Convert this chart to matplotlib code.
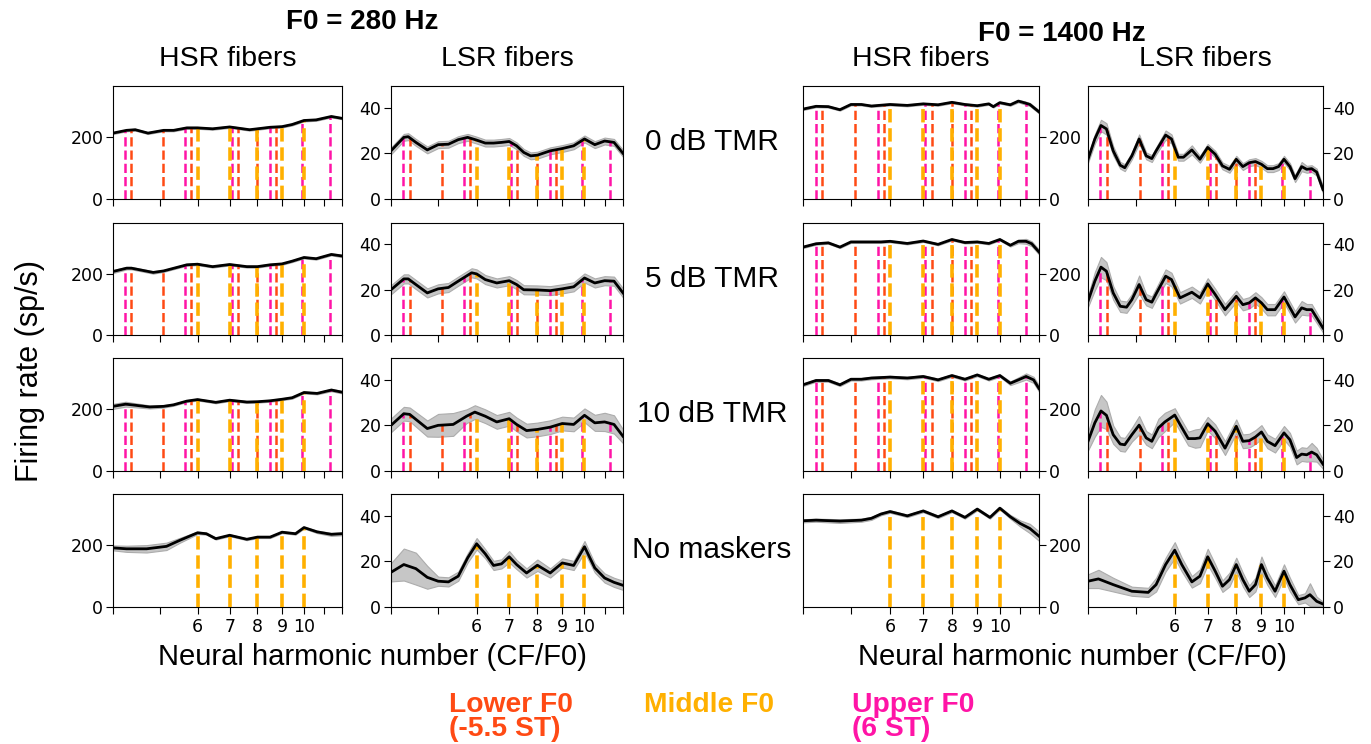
import numpy as np
import matplotlib.pyplot as plt

plt.rcParams['font.family'] = ['DejaVu Sans']

# harmonic positions (CF / middle F0) of the three talkers
MIDDLE_HARM = [6, 7, 8, 9, 10]
LOWER_HARM = [4.37, 5.09, 5.82, 7.28, 8.0, 8.73]
UPPER_HARM = [4.24, 5.66, 7.07, 8.49, 9.9, 11.31]

# ---------- F0 = 280 Hz, HSR fibers ----------
h280_0_x = [4.0, 4.27, 4.45, 4.73, 5.1, 5.35, 5.7, 6.0, 6.45, 7.0, 7.7, 8.0, 8.5, 9.0, 9.45, 10.0, 10.6, 11.4, 12.0]
h280_0_y = [214, 223, 225, 214, 223, 223, 231, 231, 228, 234, 225, 228, 233, 235, 242, 255, 257, 268, 262]
h280_0_sd = 3

h280_5_x = [4.0, 4.27, 4.37, 4.85, 5.1, 5.7, 6.0, 6.45, 7.0, 7.6, 8.0, 8.5, 9.0, 9.45, 10.0, 10.6, 11.4, 12.0]
h280_5_y = [208, 219, 219, 205, 210, 230, 232, 224, 231, 224, 224, 230, 233, 242, 254, 250, 264, 259]
h280_5_sd = [5, 4, 4, 4, 3, 3, 3, 3, 3, 3, 3, 3, 3, 3, 3, 3, 3, 4]

h280_10_x = [4.0, 4.25, 4.37, 4.77, 5.1, 5.35, 5.7, 6.0, 6.55, 7.0, 7.6, 8.0, 8.5, 9.0, 9.45, 10.0, 10.65, 11.4, 12.0]
h280_10_y = [210, 217, 215, 208, 210, 215, 227, 232, 223, 230, 224, 225, 228, 233, 238, 255, 252, 263, 256]
h280_10_sd = [8, 8, 7, 5, 4, 3, 3, 3, 3, 3, 3, 3, 3, 3, 3, 3, 3, 4, 4]

h280_nm_x = [4.0, 4.27, 4.7, 5.17, 5.5, 6.0, 6.26, 6.55, 7.0, 7.6, 8.0, 8.5, 9.0, 9.6, 10.0, 10.65, 11.4, 12.0]
h280_nm_y = [192, 189, 189, 197, 216, 241, 238, 222, 233, 220, 227, 227, 243, 238, 258, 244, 236, 238]
h280_nm_sd = [8, 10, 12, 12, 8, 4, 3, 3, 3, 3, 3, 3, 3, 3, 3, 4, 5, 5]

# ---------- F0 = 280 Hz, LSR fibers ----------
l280_0_x = [4.0, 4.25, 4.34, 4.5, 4.75, 5.0, 5.25, 5.5, 5.75, 6.0, 6.25, 6.5, 6.75, 7.0, 7.25, 7.5, 7.75, 8.0, 8.5, 9.0, 9.5, 10.0, 10.5, 11.0, 11.5, 12.0]
l280_0_y = [21.1, 27.0, 27.3, 24.8, 21.5, 23.8, 24.0, 26.0, 27.0, 25.8, 24.5, 24.5, 24.8, 25.2, 23.3, 20.4, 18.9, 19.2, 21.1, 22.1, 23.3, 26.3, 23.8, 25.4, 24.8, 20.0]
l280_0_sd = 1.5

l280_5_x = [4.0, 4.25, 4.34, 4.5, 4.75, 5.0, 5.25, 5.5, 5.86, 6.0, 6.25, 6.6, 7.0, 7.25, 7.5, 8.0, 8.5, 9.0, 9.5, 10.0, 10.5, 11.0, 11.5, 12.0]
l280_5_y = [20.0, 24.8, 24.8, 22.3, 18.6, 20.4, 21.0, 23.8, 27.5, 27.0, 24.5, 23.0, 24.0, 22.3, 20.0, 19.9, 19.6, 20.4, 21.3, 25.2, 23.0, 24.0, 23.8, 18.6]
l280_5_sd = 2.0

l280_10_x = [4.0, 4.25, 4.37, 4.75, 5.0, 5.37, 5.72, 5.95, 6.25, 6.6, 7.0, 7.25, 7.6, 8.0, 8.5, 9.0, 9.5, 10.0, 10.5, 11.0, 11.5, 12.0]
l280_10_y = [20.0, 25.1, 24.8, 18.6, 20.0, 20.4, 24.0, 25.8, 24.0, 21.5, 22.9, 20.4, 17.7, 18.2, 19.2, 20.8, 20.4, 24.4, 21.1, 21.5, 20.4, 15.2]
l280_10_sd = [3, 3, 3, 3.5, 5, 5, 3, 3, 3, 3, 3, 3, 3, 3, 3, 3, 3, 3, 3.5, 4, 4, 3]

l280_nm_x = [4.0, 4.25, 4.5, 4.75, 5.0, 5.25, 5.5, 5.75, 6.0, 6.25, 6.5, 6.75, 7.0, 7.25, 7.6, 8.0, 8.5, 9.0, 9.5, 10.0, 10.5, 11.0, 11.5, 12.0]
l280_nm_y = [15.2, 18.6, 16.8, 13.0, 11.3, 11.0, 13.5, 21.5, 27.7, 23.3, 18.2, 18.9, 22.0, 18.6, 14.9, 18.3, 14.9, 19.3, 18.2, 26.4, 17.1, 12.7, 10.8, 9.5]
l280_nm_sd = [4, 7, 7, 5, 2, 2, 2, 2, 2.5, 2, 2, 2, 2.5, 2, 2, 2.5, 2, 2, 2, 2.5, 2, 2, 2, 2]

# ---------- F0 = 1400 Hz, HSR fibers ----------
h1400_0_x = [4.0, 4.25, 4.5, 4.75, 5.0, 5.25, 5.5, 6.0, 6.5, 7.0, 7.5, 8.0, 8.5, 9.0, 9.5, 9.7, 10.0, 10.5, 10.9, 11.24, 11.5, 12.0]
h1400_0_y = [292, 301, 300, 290, 307, 307, 302, 307, 304, 309, 306, 314, 307, 303, 309, 300, 313, 306, 318, 312, 307, 283]
h1400_0_sd = [3, 3, 3, 3, 3, 3, 3, 3, 3, 3, 3, 3, 3, 3, 3, 3, 3, 3, 4, 5, 5, 5]

h1400_5_x = [4.0, 4.25, 4.5, 4.75, 5.0, 5.25, 5.75, 6.0, 6.5, 7.0, 7.5, 8.0, 8.5, 9.0, 9.5, 10.0, 10.5, 10.9, 11.3, 11.6, 12.0]
h1400_5_y = [288, 299, 302, 288, 305, 305, 305, 307, 300, 308, 297, 313, 303, 305, 300, 313, 294, 307, 307, 299, 272]
h1400_5_sd = [3, 3, 3, 3, 3, 3, 3, 3, 3, 3, 3, 3, 3, 3, 3, 3, 4, 6, 8, 8, 8]

h1400_10_x = [4.0, 4.25, 4.5, 4.75, 5.0, 5.25, 5.5, 6.0, 6.5, 7.0, 7.5, 8.0, 8.5, 9.0, 9.5, 10.0, 10.5, 10.9, 11.3, 11.7, 12.0]
h1400_10_y = [280, 294, 294, 280, 298, 298, 302, 305, 302, 307, 296, 310, 298, 312, 298, 310, 285, 296, 307, 296, 268]
h1400_10_sd = [4, 4, 4, 4, 4, 4, 4, 4, 4, 4, 4, 4, 4, 4, 4, 4, 6, 8, 10, 10, 10]

h1400_nm_x = [4.0, 4.25, 4.75, 5.25, 5.5, 5.75, 6.0, 6.5, 7.0, 7.5, 8.0, 8.5, 9.0, 9.55, 10.0, 10.5, 11.0, 11.5, 12.0]
h1400_nm_y = [280, 282, 279, 282, 288, 302, 310, 296, 312, 293, 312, 291, 318, 291, 321, 293, 271, 255, 230]
h1400_nm_sd = [5, 5, 6, 5, 5, 4, 4, 4, 4, 4, 4, 4, 4, 4, 4, 6, 10, 15, 15]

# ---------- F0 = 1400 Hz, LSR fibers ----------
l1400_0_x = [4.0, 4.13, 4.25, 4.36, 4.5, 4.65, 4.75, 4.91, 5.08, 5.25, 5.39, 5.5, 5.75, 5.91, 6.1, 6.25, 6.5, 6.75, 7.0, 7.25, 7.5, 7.75, 8.0, 8.25, 8.5, 8.75, 9.0, 9.25, 9.5, 9.75, 10.0, 10.28, 10.53, 10.86, 11.12, 11.38, 11.65, 12.0]
l1400_0_y = [17.4, 26.3, 32.2, 30.7, 21.1, 14.8, 13.7, 18.9, 26.3, 18.9, 17.7, 21.1, 28.0, 26.3, 18.3, 18.3, 21.5, 17.4, 22.6, 19.6, 14.5, 13.0, 17.4, 14.2, 15.9, 16.4, 15.2, 13.3, 13.3, 14.2, 17.4, 14.2, 8.9, 14.2, 13.0, 13.3, 11.8, 4.1]
l1400_0_sd = [1.5, 2, 2.5, 2.5, 2, 1.5, 1.5, 1.5, 2, 1.5, 1.5, 1.5, 2, 2, 1.5, 1.5, 2, 1.5, 1.5, 1.5, 1.5, 1.5, 1.5, 1.5, 1.5, 1.5, 1.5, 1.5, 1.5, 1.5, 1.5, 1.5, 1.5, 2, 1.5, 1.5, 1.5, 1.5]

l1400_5_x = [4.0, 4.13, 4.25, 4.36, 4.5, 4.65, 4.79, 4.91, 5.08, 5.25, 5.39, 5.5, 5.75, 5.91, 6.15, 6.5, 6.75, 7.0, 7.25, 7.59, 8.0, 8.25, 8.5, 8.75, 9.0, 9.25, 9.59, 10.0, 10.53, 10.86, 11.12, 11.38, 12.0]
l1400_5_y = [14.9, 23.8, 30.0, 28.2, 18.6, 12.7, 12.3, 15.6, 22.3, 15.6, 14.5, 18.2, 26.0, 24.5, 16.4, 18.9, 16.4, 22.6, 17.9, 11.2, 17.1, 13.4, 14.2, 16.4, 14.2, 11.2, 11.2, 16.8, 8.0, 12.0, 11.2, 11.2, 3.1]
l1400_5_sd = [2.5, 4, 4.5, 4, 3, 2.5, 2.5, 2.5, 4, 2.5, 2.5, 2.5, 3, 3, 2.5, 2.5, 2.5, 2.5, 2.5, 2.5, 2.5, 2.5, 2.5, 2.5, 2.5, 2.5, 2.5, 2.5, 2.5, 3, 2.5, 2.5, 2]

l1400_10_x = [4.0, 4.13, 4.25, 4.36, 4.5, 4.65, 4.75, 4.91, 5.08, 5.25, 5.39, 5.56, 5.73, 6.0, 6.15, 6.39, 6.6, 6.75, 7.0, 7.25, 7.59, 8.0, 8.25, 8.5, 8.75, 9.0, 9.25, 9.59, 10.0, 10.28, 10.61, 10.86, 11.12, 11.38, 11.65, 12.0]
l1400_10_y = [13.0, 21.1, 26.3, 24.4, 15.9, 11.8, 11.5, 15.9, 20.1, 14.5, 13.0, 18.9, 21.5, 24.5, 20.4, 14.2, 14.2, 14.5, 20.7, 17.4, 10.0, 19.6, 13.0, 13.3, 14.9, 17.1, 13.0, 11.1, 16.7, 13.7, 5.9, 7.4, 7.1, 8.3, 7.1, 3.0]
l1400_10_sd = [4, 6, 7, 6, 4, 3, 3, 3, 4, 3, 3, 4, 4, 3, 3, 3, 4, 4, 3, 3, 3, 3, 3, 3, 3, 3, 3, 3, 3, 3, 3, 3, 3, 4, 3, 2]

l1400_nm_x = [4.0, 4.2, 4.5, 4.91, 5.3, 5.5, 5.75, 6.0, 6.2, 6.5, 6.75, 7.0, 7.25, 7.5, 7.75, 8.0, 8.25, 8.5, 8.75, 9.0, 9.25, 9.59, 10.0, 10.28, 10.69, 11.03, 11.29, 11.65, 12.0]
l1400_nm_y = [11.3, 12.3, 9.8, 6.9, 6.4, 9.8, 18.6, 24.9, 18.6, 11.0, 13.5, 22.0, 15.7, 9.1, 12.0, 18.6, 12.0, 6.9, 9.8, 18.6, 12.7, 6.9, 15.7, 9.8, 3.2, 4.0, 5.4, 2.5, 1.3]
l1400_nm_sd = [3, 4, 3, 2, 2, 3, 3, 3.5, 3, 2.5, 3, 3.5, 3, 2.5, 3, 3, 3, 2.5, 3, 3.5, 3, 2.5, 3, 3, 2, 2, 5, 2, 1]

row_labels = ['0 dB TMR', '5 dB TMR', '10 dB TMR', 'No maskers']
col_titles = ['HSR fibers', 'LSR fibers', 'HSR fibers', 'LSR fibers']

panels = [
    [(h280_0_x, h280_0_y, h280_0_sd), (l280_0_x, l280_0_y, l280_0_sd),
     (h1400_0_x, h1400_0_y, h1400_0_sd), (l1400_0_x, l1400_0_y, l1400_0_sd)],
    [(h280_5_x, h280_5_y, h280_5_sd), (l280_5_x, l280_5_y, l280_5_sd),
     (h1400_5_x, h1400_5_y, h1400_5_sd), (l1400_5_x, l1400_5_y, l1400_5_sd)],
    [(h280_10_x, h280_10_y, h280_10_sd), (l280_10_x, l280_10_y, l280_10_sd),
     (h1400_10_x, h1400_10_y, h1400_10_sd), (l1400_10_x, l1400_10_y, l1400_10_sd)],
    [(h280_nm_x, h280_nm_y, h280_nm_sd), (l280_nm_x, l280_nm_y, l280_nm_sd),
     (h1400_nm_x, h1400_nm_y, h1400_nm_sd), (l1400_nm_x, l1400_nm_y, l1400_nm_sd)],
]

LOWER_C = '#ff4a14'
MID_C = '#ffb000'
UP_C = '#ff14a6'
TXT = ['Liberation Sans', 'DejaVu Sans']

W, H = 1371, 744
col_px = [(113, 342), (391, 623), (803, 1039), (1088, 1323)]
row_px = [(86, 199), (223, 335), (358, 471), (494, 607)]

fig = plt.figure(figsize=(W / 100, H / 100), dpi=100)

for r in range(4):
    for c in range(4):
        x0, x1 = col_px[c]
        y0, y1 = row_px[r]
        ax = fig.add_axes([x0 / W, 1 - y1 / H, (x1 - x0) / W, (y1 - y0) / H])
        x, y, sd = panels[r][c]
        x = np.array(x)
        y = np.array(y)
        sd = np.broadcast_to(np.array(sd, dtype=float), y.shape)

        ax.fill_between(x, y - sd, y + sd, facecolor='#c6c6c6', edgecolor='#acacac', lw=0.8, zorder=1)

        if r < 3:
            for h in LOWER_HARM:
                ax.vlines(h, 0, np.interp(h, x, y), colors=LOWER_C, linestyles='--', lw=1.8, zorder=2)
            for h in UPPER_HARM:
                ax.vlines(h, 0, np.interp(h, x, y), colors=UP_C, linestyles='--', lw=1.8, zorder=2)
        for h in MIDDLE_HARM:
            ax.vlines(h, 0, np.interp(h, x, y), colors=MID_C, linestyles='--', lw=2.6, zorder=3)

        ax.plot(x, y, color='black', lw=2, zorder=4)

        ax.set_xscale('log')
        ax.set_xlim(4, 12)
        ax.minorticks_off()
        ax.set_xticks([4, 5, 6, 7, 8, 9, 10, 11, 12])
        if r == 3:
            ax.set_xticklabels(['', '', '6', '7', '8', '9', '10', '', ''], fontsize=12.5)
        else:
            ax.set_xticklabels([])
        ax.tick_params(axis='x', length=5, pad=3)

        if c in (0, 2):
            ax.set_ylim(0, 367)
            ax.set_yticks([0, 200])
        else:
            ax.set_ylim(0, 49.5)
            ax.set_yticks([0, 20, 40])
        ax.tick_params(axis='y', labelsize=12.5, length=5, pad=2)
        if c >= 2:
            ax.yaxis.tick_right()

        if r == 0:
            ax.text(0.5, 1.0 + 27 / (y1 - y0), col_titles[c], transform=ax.transAxes,
                    ha='center', va='center', fontsize=20.5, family=TXT)

    fig.text(712 / W, 1 - (row_px[r][0] + row_px[r][1]) / 2 / H, row_labels[r],
             ha='center', va='center', fontsize=21.5, family=TXT)

fig.text(362 / W, 1 - 22 / H, 'F0 = 280 Hz', ha='center', va='center',
         fontsize=20, fontweight='bold', family=TXT)
fig.text(1062 / W, 1 - 34 / H, 'F0 = 1400 Hz', ha='center', va='center',
         fontsize=20, fontweight='bold', family=TXT)

fig.text(30 / W, 1 - 371 / H, 'Firing rate (sp/s)', rotation=90, ha='center', va='center',
         fontsize=22, family=TXT)
fig.text(372 / W, 1 - 657 / H, 'Neural harmonic number (CF/F0)', ha='center', va='center',
         fontsize=21, family=TXT)
fig.text(1072 / W, 1 - 657 / H, 'Neural harmonic number (CF/F0)', ha='center', va='center',
         fontsize=21, family=TXT)

fig.text(449 / W, 1 - 717 / H, 'Lower F0\n(-5.5 ST)', ha='left', va='center', color=LOWER_C,
         fontsize=20.3, fontweight='bold', family=TXT, linespacing=0.9)
fig.text(644 / W, 1 - 705 / H, 'Middle F0', ha='left', va='center', color=MID_C,
         fontsize=20.3, fontweight='bold', family=TXT)
fig.text(852 / W, 1 - 717 / H, 'Upper F0\n(6 ST)', ha='left', va='center', color=UP_C,
         fontsize=20.3, fontweight='bold', family=TXT, linespacing=0.9)

fig.savefig('out.png', dpi=100)
